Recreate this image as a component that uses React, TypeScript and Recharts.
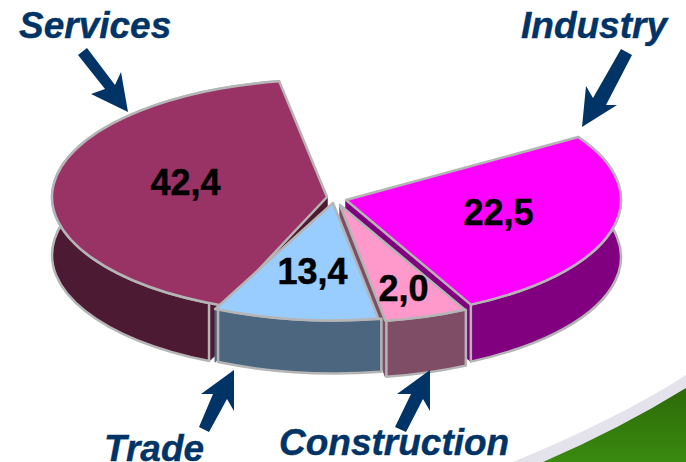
import { Pie, PieChart } from "recharts";

const slices = ["Services", "Rest", "Industry", "Construction", "Trade"];
// sweep of each slice as drawn in the picture, in degrees (the 3D view distorts them)
const sweeps = [144.6, 67.6, 95.4, 17.5, 34.9];
const labels = ["42,4", "", "22,5", "2,0", "13,4"];
const topColors = ["#993366", "none", "#ff00ff", "#ff99cc", "#99ccff"];
const wallColors = ["#4d1a33", "none", "#800080", "#804d66", "#4d6680"];

const tableData = slices.map((name, i) => ({ name, sweep: sweeps[i], label: labels[i] }));

const WIDTH = 686;
const HEIGHT = 462;
const CX = 336;
const CY = 202;
const RADIUS = 275;
const TILT = 0.427;
const EDGE = "#b5b5b5";
const NAVY = "#003366";
const FONT = "'Liberation Sans', Arial, sans-serif";

// per slice look: pull out of the centre, wall height and offset, label place
const explode = [
    { x: -9, y: -5 },
    { x: 0, y: 0 },
    { x: 10, y: -2 },
    { x: 4, y: 3 },
    { x: -3, y: 1 },
];
const depths = [58, 0, 57, 56, 53];
const wallShift = [0, 0, 0, 1, 3];
// services' top runs on a little under trade
const tuck = [3.5, 0, 0, 0, 0];
const labelRadius = [0.53, 0, 0.56, 0.75, 0.59];
const labelNudge = [
    { x: 3, y: -6 },
    { x: 0, y: 0 },
    { x: 4, y: -5 },
    { x: -1, y: 0 },
    { x: 2, y: 0 },
];

const callouts = [
    { text: "Services", x: 19, y: 38, arrow: "78,55 87,48 115,85 121,72 128,112 91,94 105,89" },
    { text: "Industry", x: 521, y: 38, arrow: "621,49 632,55 606,105 617,105 582,127 586,86 593,98" },
    { text: "Trade", x: 104, y: 461, arrow: "234,370 234,411 227,399 209,432 199,427 213,394 201,394" },
    { text: "Construction", x: 279, y: 455, arrow: "430,370 430,411 423,399 406,432 395,427 411,394 397,394" },
];

function point(cx: number, cy: number, r: number, deg: number) {
    const a = (deg * Math.PI) / 180;
    return { x: cx + r * Math.cos(a), y: cy - r * TILT * Math.sin(a) };
}

function Slice3D(props: any) {
    const { cx, cy, outerRadius: r, startAngle, endAngle, index } = props;
    const i = index ?? slices.indexOf(props.name);
    if (topColors[i] === "none") return null;
    const ox = cx + explode[i].x;
    const oy = cy + explode[i].y;
    const depth = depths[i];
    const a = point(ox, oy, r, startAngle);
    const b = point(ox, oy, r, endAngle);
    const topA = point(ox, oy, r, startAngle + tuck[i]);
    const ry = r * TILT;
    const large = Math.abs(endAngle - startAngle) > 180 ? 1 : 0;
    const sx = wallShift[i];
    const wall = `M${a.x + sx},${a.y} A${r},${ry} 0 ${large} 1 ${b.x + sx},${b.y} L${b.x + sx},${b.y + depth} A${r},${ry} 0 ${large} 0 ${a.x + sx},${a.y + depth} Z`;
    const face = (p: { x: number; y: number }) =>
        `M${ox},${oy} L${p.x},${p.y} L${p.x},${p.y + depth} L${ox},${oy + depth} Z`;
    const top = `M${ox},${oy} L${topA.x},${topA.y} A${r},${ry} 0 ${large} 1 ${b.x},${b.y} Z`;
    return (
        <g>
            <path d={face(a)} fill={wallColors[i]} stroke={wallColors[i]} />
            <path d={face(b)} fill={wallColors[i]} stroke={wallColors[i]} />
            <path d={wall} fill={wallColors[i]} stroke={EDGE} strokeWidth={2.5} strokeLinejoin="round" />
            <path d={top} fill={topColors[i]} stroke={EDGE} strokeWidth={2.5} strokeLinejoin="round" />
        </g>
    );
}

function SliceLabel(props: any) {
    const { cx, cy, outerRadius: r, midAngle, index } = props;
    if (!labels[index]) return null;
    const p = point(cx + explode[index].x, cy + explode[index].y, r * labelRadius[index], midAngle);
    return (
        <text
            x={p.x + labelNudge[index].x}
            y={p.y + labelNudge[index].y}
            textAnchor="middle"
            dominantBaseline="central"
            fontFamily={FONT}
            fontWeight="bold"
            fontSize={36}
            fill="#000000"
            stroke="#000000"
            strokeWidth={0.5}
        >
            {labels[index]}
        </text>
    );
}

export default function App() {
    return (
        <div style={{ position: "absolute", left: 0, top: 0, width: WIDTH, height: HEIGHT, background: "#fff", overflow: "hidden" }}>
            <svg width={WIDTH} height={HEIGHT} style={{ position: "absolute", left: 0, top: 0 }}>
                <defs>
                    <linearGradient id="swoosh" x1="0" y1="0" x2="0" y2="1">
                        <stop offset="0" stopColor="#2c6a08" />
                        <stop offset="1" stopColor="#3a8a10" />
                    </linearGradient>
                </defs>
                <path d="M513,462 Q620.5,417.5 686,375 L686,462 Z" fill="#e4e2ea" />
                <path d="M543,462 Q619.5,429 686,388 L686,462 Z" fill="url(#swoosh)" />
            </svg>
            <div style={{ position: "absolute", left: 0, top: 0 }}>
                <PieChart width={WIDTH} height={HEIGHT} margin={{ top: 0, right: 0, bottom: 0, left: 0 }}>
                    <Pie
                        data={tableData}
                        dataKey="sweep"
                        nameKey="name"
                        cx={CX}
                        cy={CY}
                        innerRadius={0}
                        outerRadius={RADIUS}
                        startAngle={244.6}
                        endAngle={-115.4}
                        paddingAngle={0}
                        stroke="none"
                        shape={Slice3D}
                        inactiveShape={Slice3D}
                        label={SliceLabel}
                        labelLine={false}
                        isAnimationActive={false}
                    />
                </PieChart>
            </div>
            <svg width={WIDTH} height={HEIGHT} style={{ position: "absolute", left: 0, top: 0, pointerEvents: "none" }}>
                {callouts.map((c) => (
                    <g key={c.text}>
                        <polygon points={c.arrow} fill={NAVY} />
                        <text x={c.x} y={c.y} fontFamily={FONT} fontWeight="bold" fontStyle="italic" fontSize={37} fill={NAVY} stroke={NAVY} strokeWidth={0.4}>
                            {c.text}
                        </text>
                    </g>
                ))}
            </svg>
        </div>
    );
}
